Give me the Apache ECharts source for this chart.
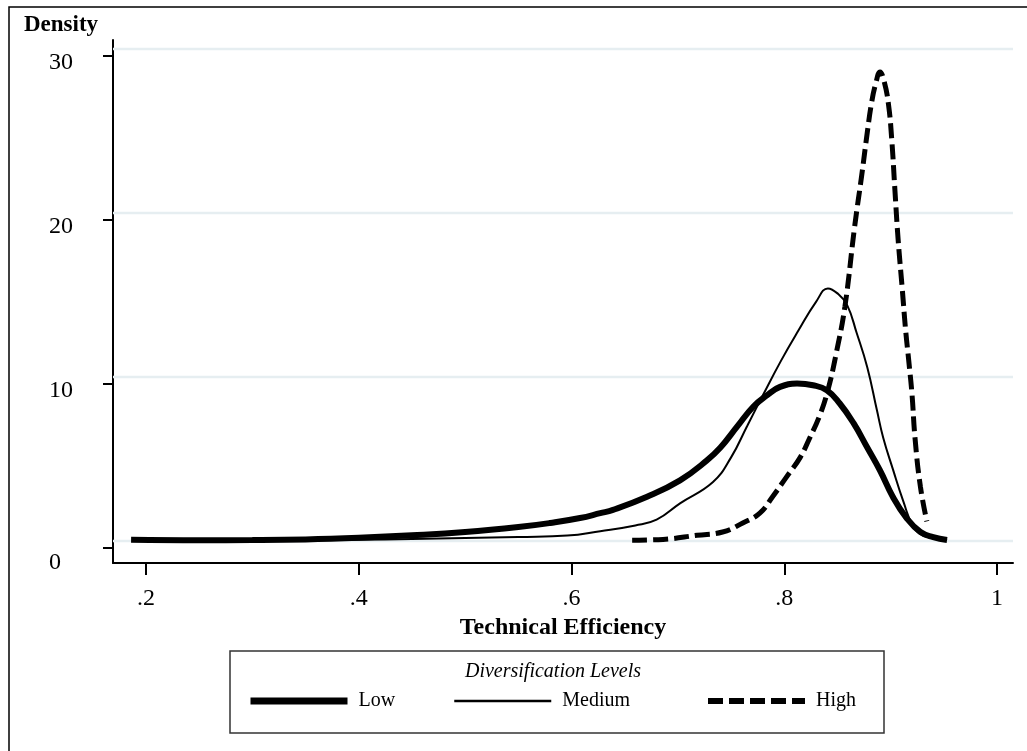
<!DOCTYPE html>
<html>
<head>
<meta charset="utf-8">
<script src="https://cdn.jsdelivr.net/npm/echarts@6/dist/echarts.min.js"></script>
<style>
html,body{margin:0;padding:0;background:#fff;}
#chart{width:1027px;height:751px;}
</style>
</head>
<body>
<div id="chart"></div>
<script>
// ---- data ----
var seriesNames = ['Low', 'Medium', 'High'];

var lowX = [0.186, 0.25, 0.30, 0.35, 0.40, 0.45, 0.50, 0.55, 0.58, 0.608, 0.627, 0.639, 0.671, 0.702, 0.727, 0.740, 0.756, 0.771, 0.784, 0.796, 0.812, 0.827, 0.840, 0.852, 0.865, 0.878, 0.890, 0.902, 0.915, 0.928, 0.940, 0.953];
var lowY = [0.08, 0.05, 0.06, 0.10, 0.20, 0.35, 0.55, 0.85, 1.10, 1.40, 1.70, 1.90, 2.70, 3.70, 4.90, 5.70, 7.00, 8.20, 8.90, 9.40, 9.60, 9.50, 9.20, 8.40, 7.20, 5.70, 4.30, 2.70, 1.40, 0.55, 0.24, 0.06];

var medX = [0.19, 0.30, 0.40, 0.45, 0.50, 0.55, 0.596, 0.627, 0.660, 0.680, 0.702, 0.733, 0.750, 0.765, 0.780, 0.797, 0.813, 0.830, 0.841, 0.850, 0.859, 0.868, 0.878, 0.887, 0.893, 0.902, 0.912, 0.921, 0.930, 0.940, 0.953];
var medY = [0.05, 0.05, 0.08, 0.12, 0.18, 0.25, 0.33, 0.60, 0.95, 1.30, 2.30, 3.60, 5.10, 7.00, 8.90, 11.0, 12.8, 14.6, 15.4, 15.1, 14.4, 12.7, 10.6, 8.00, 6.30, 4.40, 2.40, 0.90, 0.35, 0.20, 0.06];

var highX = [0.657, 0.686, 0.718, 0.742, 0.761, 0.777, 0.789, 0.802, 0.815, 0.824, 0.833, 0.841, 0.849, 0.857, 0.866, 0.873, 0.878, 0.882, 0.886, 0.890, 0.894, 0.898, 0.901, 0.904, 0.907, 0.911, 0.914, 0.917, 0.920, 0.923, 0.928, 0.934];
var highY = [0.05, 0.10, 0.35, 0.55, 1.10, 1.70, 2.70, 3.90, 5.10, 6.30, 7.60, 9.20, 11.5, 14.3, 19.1, 22.4, 24.9, 26.7, 27.9, 28.6, 28.0, 26.6, 24.5, 21.4, 18.4, 15.3, 12.9, 11.0, 9.00, 6.20, 3.30, 1.20];

var xTicks = [0.2, 0.4, 0.6, 0.8, 1.0];
var xTickLabels = ['.2', '.4', '.6', '.8', '1'];
var yTicks = [0, 10, 20, 30];
var yTickLabels = ['0', '10', '20', '30'];

// ---- chart ----
var FONT = "'Liberation Serif', 'Times New Roman', serif";
var X_MIN = 0.169, X_MAX = 1.015;
var Y_MIN = -1.34, Y_MAX = 30.55;
var TICK_SHIFT = 0.43;

function pairs(xs, ys) { return xs.map(function (x, i) { return [x, ys[i]]; }); }

var gridSeries = yTicks.map(function (v) {
  return {
    type: 'line', name: 'grid' + v, data: [[X_MIN, v], [X_MAX, v]],
    symbol: 'none', silent: true, z: 1,
    lineStyle: { color: '#e6eef1', width: 2.5 }
  };
});

var curveStyles = {
  Low: { color: '#000', width: 6, type: 'solid' },
  Medium: { color: '#000', width: 2, type: 'solid' },
  High: { color: '#000', width: 5, type: [15, 6] }
};
var legendLineStyles = {
  Low: { color: '#000', width: 7, type: 'solid' },
  Medium: { color: '#000', width: 2.5, type: 'solid' },
  High: { color: '#000', width: 6, type: [15, 6] }
};
var curveData = { Low: pairs(lowX, lowY), Medium: pairs(medX, medY), High: pairs(highX, highY) };

var curves = seriesNames.map(function (n) {
  return {
    type: 'line', name: n, data: curveData[n],
    symbol: 'none', smooth: 0.45, z: 3,
    itemStyle: { color: '#000' },
    lineStyle: curveStyles[n]
  };
});

var legendLefts = { Low: 247, Medium: 453, High: 705 };
var legends = seriesNames.map(function (n) {
  return {
    data: [n], left: legendLefts[n], top: 691, padding: 0,
    itemWidth: 97, itemHeight: 20, selectedMode: false,
    itemStyle: { opacity: 0 },
    lineStyle: legendLineStyles[n],
    textStyle: { fontFamily: FONT, fontSize: 20, color: '#000', padding: [0, 0, 0, 6] }
  };
});

function lookup(ticks, labels, v) {
  for (var i = 0; i < ticks.length; i++) { if (Math.abs(ticks[i] - v) < 1e-6) return labels[i]; }
  return '';
}

var chart = echarts.init(document.getElementById('chart'), null, { renderer: 'canvas' });
chart.setOption({
  backgroundColor: '#fff',
  animation: false,
  title: {
    text: 'Density', left: 24, top: 14, padding: 0,
    textStyle: { fontFamily: FONT, fontSize: 23, fontWeight: 'bold', color: '#000' }
  },
  grid: { left: 113, right: 14, top: 40, bottom: 188, containLabel: false },
  legend: legends,
  xAxis: {
    type: 'value', min: X_MIN, max: X_MAX,
    name: 'Technical Efficiency', nameLocation: 'middle', nameGap: 40,
    nameTextStyle: { fontFamily: FONT, fontSize: 24, fontWeight: 'bold', color: '#000' },
    axisLine: { show: true, onZero: false, lineStyle: { color: '#000', width: 2 } },
    axisTick: { show: true, customValues: xTicks, length: 12, lineStyle: { color: '#000', width: 2 } },
    axisLabel: {
      show: true, customValues: xTicks, margin: 24,
      fontFamily: FONT, fontSize: 24, color: '#000',
      formatter: function (v) { return lookup(xTicks, xTickLabels, v); }
    },
    splitLine: { show: false }
  },
  yAxis: [
    {
      type: 'value', min: Y_MIN, max: Y_MAX, position: 'left',
      axisLine: { show: true, onZero: false, lineStyle: { color: '#000', width: 2 } },
      axisTick: { show: false }, axisLabel: { show: false }, splitLine: { show: false }
    },
    {
      type: 'value', min: Y_MIN + TICK_SHIFT, max: Y_MAX + TICK_SHIFT, position: 'left',
      axisLine: { show: false },
      axisTick: { show: true, customValues: yTicks, length: 10, lineStyle: { color: '#000', width: 2 } },
      axisLabel: {
        show: true, customValues: yTicks, margin: 64, align: 'left',
        fontFamily: FONT, fontSize: 24, color: '#000',
        formatter: function (v) {
          var s = lookup(yTicks, yTickLabels, v);
          return (Math.abs(v) < 1e-6 ? '{b|' : '{a|') + s + '}';
        },
        rich: {
          a: { fontFamily: FONT, fontSize: 24, color: '#000', padding: [14, 0, 0, 0] },
          b: { fontFamily: FONT, fontSize: 24, color: '#000', padding: [30, 0, 0, 0] }
        }
      },
      splitLine: { show: false }
    }
  ],
  graphic: [
    { type: 'rect', silent: true, z: 0, shape: { x: 9, y: 7, width: 1100, height: 1000 },
      style: { fill: null, stroke: '#000', lineWidth: 1.5 } },
    { type: 'rect', silent: true, shape: { x: 230, y: 651, width: 654, height: 82 },
      style: { fill: null, stroke: '#333', lineWidth: 1.5 } },
    { type: 'text', silent: true, x: 553, y: 672,
      style: { text: 'Diversification Levels', fill: '#000', align: 'center', verticalAlign: 'middle',
               font: 'italic 20px ' + FONT } }
  ],
  series: gridSeries.concat(curves)
});
</script>
</body>
</html>
